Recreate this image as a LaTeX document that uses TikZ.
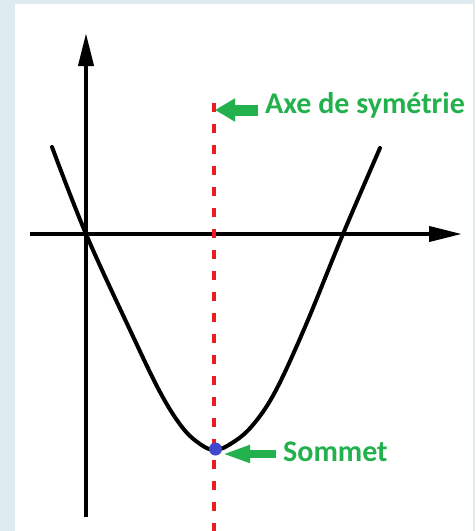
\documentclass[tikz,border=0pt]{standalone}
\usepackage{fontspec}
\setmainfont{Carlito}
\usetikzlibrary{arrows.meta}
\definecolor{bgblue}{HTML}{DDEBF0}
\definecolor{pgreen}{HTML}{22B14C}
\definecolor{pred}{HTML}{ED1C24}
\definecolor{pblue}{HTML}{3F48CC}
\tikzset{
  axisline/.style={line width=4pt, black, -{Triangle[length=33pt,width=15pt]}},
  curveline/.style={line width=4pt, black, line cap=round, line join=round},
  symline/.style={line width=3.5pt, pred, dash pattern=on 9pt off 12pt},
  greenarrow/.style={pgreen, -{Triangle[length=20pt,width=22pt]}},
  label/.style={text=pgreen, font=\fontsize{30}{33}\selectfont\bfseries, inner sep=0pt}
}
\begin{document}
\begin{tikzpicture}[x=1pt,y=-1pt]
\useasboundingbox (0,0) rectangle (475,531);
\fill[bgblue] (0,0) rectangle (475,531);
\fill[white] (15,4) rectangle (473,531);
% axes
\coordinate (yb) at (86,517);
\coordinate (yt) at (86,33);
\coordinate (xl) at (30,234);
\coordinate (xr) at (462,234);
\draw[axisline] (yb) -- (yt);
\draw[axisline] (xl) -- (xr);
% symmetry axis
\coordinate (st) at (214,103);
\coordinate (sb) at (214,531);
\draw[symline] (st) -- (sb);
% parabola
\draw[curveline] plot[smooth, tension=0.6] coordinates {(52,147) (86,234) (130,330) (160,392) (182,427) (200,444) (215,450) (232,443) (252,426) (275,392) (305,327) (343,234) (380,148)};
% vertex
\node[circle, fill=pblue, inner sep=0pt, minimum size=13pt] (v) at (215.5,449) {};
% labels
\node[label, anchor=base west] (axe) at (265,113) {Axe de symétrie};
\node[label, anchor=base west] (som) at (283,461) {Sommet};
\coordinate (a1s) at (258,110);
\coordinate (a1e) at (215,110);
\draw[greenarrow, line width=11pt] (a1s) -- (a1e);
\coordinate (a2s) at (276,454);
\coordinate (a2e) at (222,454);
\draw[greenarrow, line width=8pt, -{Triangle[length=28pt,width=16pt]}] (a2s) -- (a2e);
\end{tikzpicture}
\end{document}
